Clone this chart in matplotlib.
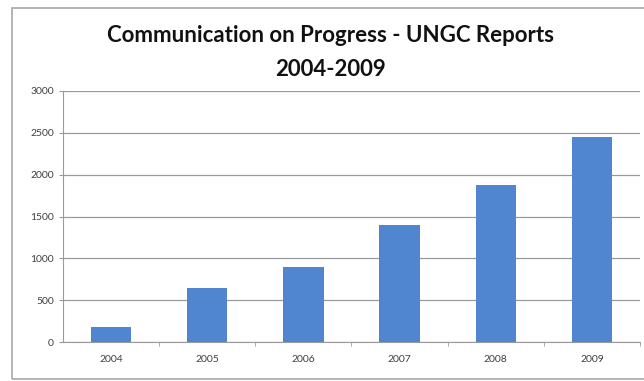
import matplotlib.pyplot as plt
from matplotlib.patches import Rectangle

years = ["2004", "2005", "2006", "2007", "2008", "2009"]
reports = [175, 650, 900, 1400, 1875, 2445]
y_ticks = [0, 500, 1000, 1500, 2000, 2500, 3000]

plt.rcParams['font.family'] = ['Lato', 'DejaVu Sans']

fig = plt.figure(figsize=(6.44, 3.81), dpi=100)
fig.patches.append(Rectangle((12 / 644, 2 / 381), 1.2, 371 / 381,
                             transform=fig.transFigure, fill=False,
                             edgecolor="#a8a8a8", linewidth=1.2))

ax = fig.add_axes([63 / 644, 1 - 342 / 381, 577 / 644, 251 / 381])
x = range(len(years))
ax.bar(x, reports, width=0.42, color="#4F86CF", zorder=3)

ax.set_xlim(-0.5, len(years) - 0.5)
ax.set_ylim(0, 3000)
ax.set_yticks(y_ticks)
ax.set_xticks(list(x))
ax.set_xticklabels(years)
ax.set_xticks([i + 0.5 for i in x], minor=True)
ax.grid(axis="y", color="#9a9a9a", linewidth=0.9, zorder=0)

for side in ["top", "right"]:
    ax.spines[side].set_visible(False)
for side in ["left", "bottom"]:
    ax.spines[side].set_color("#9a9a9a")
ax.tick_params(axis="y", labelsize=7.5, colors="#404040", length=3, color="#9a9a9a")
ax.tick_params(axis="x", which="major", labelsize=7.5, colors="#404040", length=0, pad=9)
ax.tick_params(axis="x", which="minor", length=3, color="#9a9a9a")

fig.text(0.513, 1 - 36 / 381, "Communication on Progress - UNGC Reports",
         ha="center", va="center", fontsize=16, fontweight="bold", color="#111111")
fig.text(0.513, 1 - 70 / 381, "2004-2009",
         ha="center", va="center", fontsize=16, fontweight="bold", color="#111111")

fig.savefig("out.png", dpi=100)
